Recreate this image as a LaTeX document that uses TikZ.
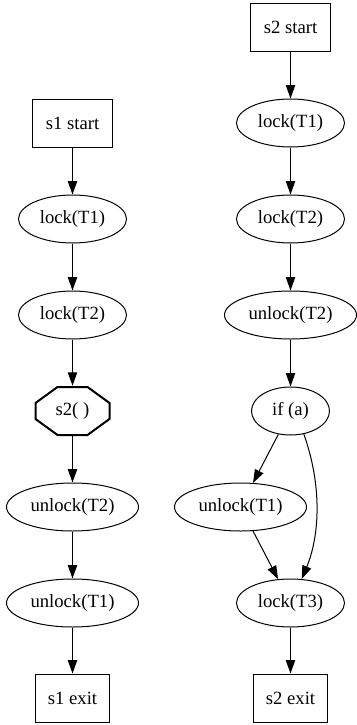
\documentclass[tikz,border=0pt]{standalone}
\usepackage{fontspec}
\setmainfont{Liberation Serif}
\usetikzlibrary{shapes.geometric,arrows.meta}
\begin{document}
\begin{tikzpicture}[x=0.75pt,y=-0.75pt,
  every node/.style={font=\fontsize{14pt}{16pt}\selectfont, inner sep=0pt},
  ell/.style={draw, ellipse, line width=0.75pt, minimum height=36pt},
  lockell/.style={ell, minimum width=81pt},
  unlockell/.style={ell, minimum width=99pt},
  ifell/.style={ell, minimum width=58.5pt},
  startbox/.style={draw, rectangle, line width=0.75pt, minimum width=60pt, minimum height=36pt},
  exitbox/.style={draw, rectangle, line width=0.75pt, minimum width=56pt, minimum height=36pt},
  octnode/.style={rectangle, minimum width=57pt, minimum height=37.5pt},
  octline/.style={line width=1.5pt, line join=miter},
  edge/.style={draw, line width=0.75pt, -{Triangle[length=10pt,width=7pt]}}
]
\useasboundingbox (0,0) rectangle (357,725);

% left column
\node[startbox] (s1start) at (72.5,123) {s1 start};
\node[lockell] (l1) at (72.5,219) {lock(T1)};
\node[lockell] (l2) at (72.5,315) {lock(T2)};
\node[octnode] (oct) at (72.5,411) {s2( )};
\draw[octline] ([shift={(-15,-24)}]oct.center) -- ([shift={(15,-24)}]oct.center)
  -- ([shift={(37,-8)}]oct.center) -- ([shift={(37,8)}]oct.center)
  -- ([shift={(15,24)}]oct.center) -- ([shift={(-15,24)}]oct.center)
  -- ([shift={(-37,8)}]oct.center) -- ([shift={(-37,-8)}]oct.center) -- cycle;
\node[unlockell] (ul2) at (72.5,507) {unlock(T2)};
\node[unlockell] (ul1) at (72.5,603) {unlock(T1)};
\node[exitbox] (s1exit) at (72.5,698) {s1 exit};

% right column
\node[startbox] (s2start) at (290.5,27) {s2 start};
\node[lockell] (r1) at (290.5,123) {lock(T1)};
\node[lockell] (r2) at (290.5,219) {lock(T2)};
\node[unlockell] (rul2) at (290.5,315) {unlock(T2)};
\node[ifell] (ifa) at (290.5,411) {if (a)};
\node[unlockell] (rul1) at (240.5,507) {unlock(T1)};
\node[lockell] (l3) at (290.5,603) {lock(T3)};
\node[exitbox] (s2exit) at (290.5,698) {s2 exit};

% left edges
\path[edge] (s1start) -- (l1);
\path[edge] (l1) -- (l2);
\path[edge] (l2) -- (oct);
\path[edge] (oct) -- (ul2);
\path[edge] (ul2) -- (ul1);
\path[edge] (ul1) -- (s1exit);

% right edges
\path[edge] (s2start) -- (r1);
\path[edge] (r1) -- (r2);
\path[edge] (r2) -- (rul2);
\path[edge] (rul2) -- (ifa);
\path[edge] (ifa) -- (rul1);
\path[edge] (ifa.-60) .. controls (322,485) and (320,535) .. (l3.65);
\path[edge] (rul1) -- (l3);
\path[edge] (l3) -- (s2exit);
\end{tikzpicture}
\end{document}
